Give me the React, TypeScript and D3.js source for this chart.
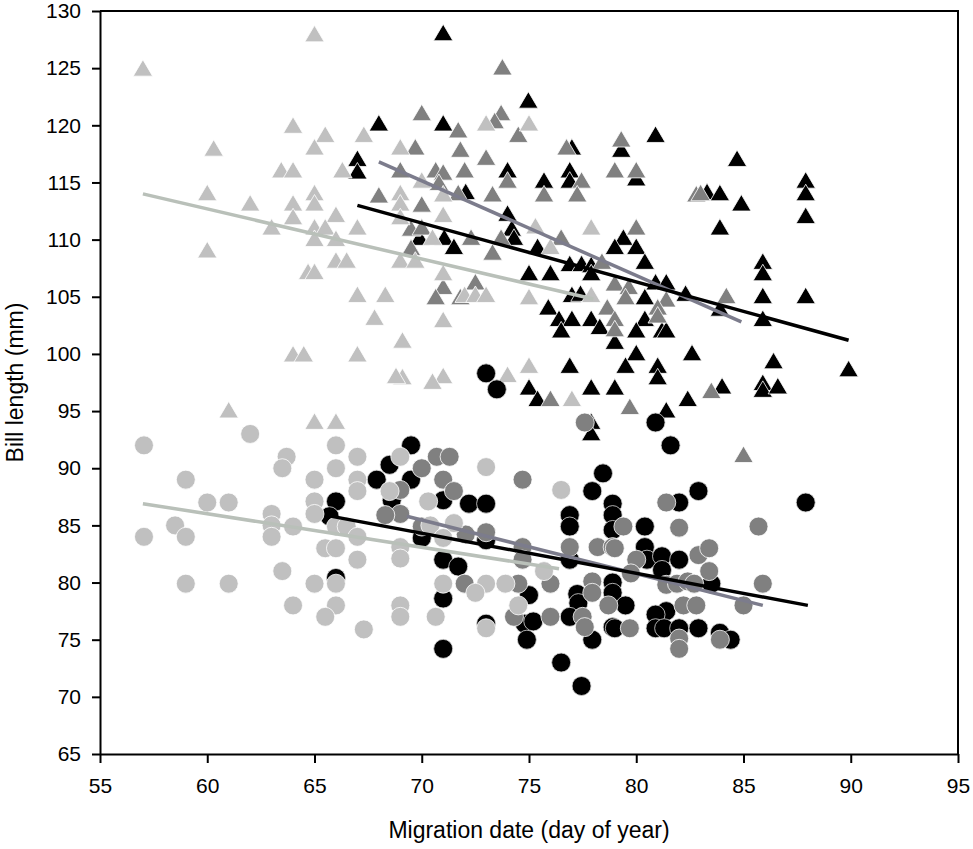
import { axisBottom, axisLeft, line, scaleLinear, select } from "d3";
import { useEffect, useRef } from "react";

const WIDTH = 973;
const HEIGHT = 849;

// each point: [migration day of year, bill length in mm]
const lightTriangles = [
  [57, 125], [65, 128], [64, 120], [60.3, 118], [65.5, 119.2], [65, 118.1], [67.3, 119.2],
  [63.45, 116.1], [64, 116.1], [66.3, 116.1], [69, 118.1], [60, 114.1], [62, 113.2],
  [64, 113.2], [65, 114.1], [65, 113.2], [64, 112], [66, 112.2], [63, 111.1], [65, 111.1],
  [65.5, 111.1], [67, 111.1], [65, 110.1], [66, 110.1], [69, 114.1], [69, 113.2], [69, 112],
  [60, 109.1], [66, 108.2], [66.5, 108.2], [64.7, 107.2], [65, 107.2], [69, 108.2], [69.7, 108.2],
  [67, 105.2], [68.3, 105.2], [67.8, 103.2], [73, 120.2], [75, 120.2], [70, 115.2], [71, 114],
  [71, 112.2], [75.3, 111.2], [77.9, 111.1], [70.5, 110.2], [76, 109.4], [71, 107.1],
  [72, 105.2], [72.5, 105.2], [73, 105.2], [75, 105], [77.9, 105.2], [71, 103], [69.1, 101.2],
  [71, 98.1], [70.5, 97.6], [74, 98.2], [69.1, 98], [75, 99], [77, 96.1], [64, 100],
  [64.5, 100], [67, 100], [68.8, 98.1], [61, 95.1], [65, 94.1], [66, 94.1],
];

const darkTriangles = [
  [68, 113.9], [69, 116.1], [69.7, 118.1], [69.5, 111], [69.5, 109.3], [73.76, 125.1],
  [70, 121.1], [73.7, 121.1], [73.4, 120.4], [71.7, 119.6], [74.5, 119.2], [79.3, 118.8],
  [76.75, 118.1], [71.8, 117.9], [73, 117.2], [74, 115.2], [77.45, 115.2], [75.7, 114],
  [77.25, 114], [79, 116.1], [80, 116.1], [82.8, 114], [70.65, 116.1], [71, 115.9], [72, 116.1],
  [70.8, 115], [71.7, 114.1], [73.3, 114], [70, 113.1], [80, 111.1], [76.5, 110.2],
  [73.7, 110.2], [72.3, 110.2], [70, 111.1], [73.3, 108.9], [78.4, 108.1], [71, 105.9],
  [72.5, 106.3], [70.65, 105], [71.8, 105], [79, 106.2], [79.65, 105.9], [79.5, 105],
  [81.4, 104.8], [78.65, 104.1], [81, 104.1], [79, 103.1], [81, 103.4], [79, 102.2], [76, 96.1],
  [79.7, 95.4], [83, 114.1], [84.2, 105.1], [83.5, 96.8], [85, 91.2],
];

const blackTriangles = [
  [68, 120.2], [67, 117.1], [67, 116], [71, 128.1], [74.97, 122.2], [71, 120.2], [80.9, 119.2],
  [79.3, 117.9], [77, 118.1], [74, 116.1], [76.9, 116.1], [76.9, 115.2], [75.7, 115.2],
  [80, 115.4], [72.05, 114.2], [74, 112.3], [74.2, 111], [74.3, 110.2], [79.4, 110.2],
  [71.05, 110.2], [69.9, 110.2], [79, 109.4], [80, 109.4], [71.5, 109.4], [75.4, 109.4],
  [76.9, 107.9], [77.45, 107.9], [77.9, 107.8], [80.4, 108.1], [75, 107.1], [76, 107.1],
  [77.9, 107.1], [77, 105.2], [77.4, 105.3], [80.9, 106.3], [80.4, 105], [81.4, 106.3],
  [82.3, 105.3], [75.9, 104.1], [76.4, 103.1], [77, 103.1], [77.9, 103.1], [80.4, 103.1],
  [76.5, 102.1], [78.3, 102.4], [80, 102.1], [81.2, 102.1], [81.4, 102.1], [79, 101.1],
  [80, 100.1], [82.6, 100.1], [76.9, 99], [79.5, 99], [81, 99], [81, 98], [75, 97.1],
  [75.4, 96.1], [77.9, 97.1], [79, 97.1], [82.4, 96.1], [81.4, 95.1], [77.9, 94.1], [77.9, 93.1],
  [84.7, 117.1], [83.3, 114.2], [83.9, 114.1], [84.9, 113.2], [87.9, 115.2], [87.9, 114.1],
  [87.9, 112.1], [83.9, 111.1], [85.9, 108.1], [85.9, 107.1], [85.9, 105.1], [87.9, 105.1],
  [83.9, 104], [85.9, 103.1], [86.4, 99.4], [89.9, 98.7], [85.9, 97.5], [85.9, 96.9],
  [86.6, 97.2], [84, 97.2],
];

const lightCircles = [
  [57.05, 92], [62, 93], [59, 89], [63.7, 91], [63.5, 90], [66, 92], [66, 90], [67, 91], [65, 89],
  [67, 89], [67, 88], [60, 87], [61, 87], [65, 87.1], [65, 86], [58.5, 85], [57.05, 84], [59, 84],
  [63, 86], [63, 85], [63, 84], [64, 84.9], [66, 84.9], [66.5, 84.9], [67, 84], [65.5, 83],
  [66, 83], [67, 82], [63.5, 81], [59, 79.9], [61, 79.9], [65, 79.9], [66, 79.9], [64, 78],
  [66, 78], [65.5, 77], [67.3, 75.9], [69, 91], [73, 90.1], [68.5, 88], [70.3, 87.1], [69, 83.1],
  [69, 82.1], [71.5, 85.2], [70.4, 85], [71, 83.9], [76.5, 88.1], [75.7, 81], [71, 79.9],
  [73, 79.9], [73.9, 79.9], [72.5, 79.1], [74.5, 78], [69, 78], [69, 77], [70.65, 77], [73, 76],
];

const darkCircles = [
  [70.7, 91], [71.3, 91], [70, 90], [71, 89], [71.5, 88], [69, 88.1], [69, 86], [68.3, 85.9],
  [70, 84.9], [73, 84.4], [72.05, 84.2], [74.7, 89], [74.7, 83.1], [74.7, 82], [72, 79.9],
  [74.5, 79.9], [76, 79.9], [76.9, 83.1], [78.2, 83.1], [78.9, 83.1], [76, 77], [74.3, 77],
  [77.95, 80.1], [77.95, 79.1], [77.5, 77], [77.6, 76.1], [78.7, 78], [77.6, 94], [81.4, 87],
  [79.4, 84.9], [82, 84.8], [85.7, 84.9], [79, 83], [80, 82], [82.9, 82.4], [83.4, 83],
  [83.4, 81], [79.75, 80.8], [81.4, 79.8], [81.9, 79.9], [82.4, 80.1], [82.7, 79.9], [85.9, 79.9],
  [82.2, 78], [82.8, 78], [85, 78], [79.7, 76], [82, 75.1], [82, 74.2], [83.9, 75],
];

const blackCircles = [
  [73, 98.3], [73.5, 96.9], [80.9, 94], [81.6, 92], [66, 87.1], [67.9, 89], [65.7, 85.8],
  [66, 80.4], [69.5, 92], [68.5, 90.3], [69.5, 89], [68.6, 87.2], [71, 87.2], [72.2, 86.9],
  [73, 86.9], [70, 83.9], [71, 82], [71.7, 81.4], [71, 78.6], [73, 83.7], [75, 78.9],
  [74.8, 76.4], [75.2, 76.6], [74.9, 75], [71, 74.2], [76.9, 85.9], [76.9, 84.9], [77.95, 88],
  [78.45, 89.55], [76.9, 82], [78.9, 86.9], [78.9, 85.9], [78.9, 84.6], [77.25, 79], [77.3, 78.2],
  [76.9, 77], [77.95, 75], [78.9, 80], [78.9, 79.1], [78.9, 76.1], [82.9, 88], [82, 87],
  [87.9, 87], [80.4, 84.9], [80.4, 83.1], [80.5, 82], [81.2, 82.3], [82, 82], [81.2, 81.1],
  [83.5, 79.9], [79.5, 78], [81.4, 77.5], [80.9, 77.2], [79, 76], [80.9, 76], [81.3, 76],
  [82, 76], [82.9, 76], [83.9, 75.6], [84.4, 75], [76.5, 73], [77.45, 70.95], [73, 76.4],
];

// regression lines, start and end
const lightTriangleFit = [[57, 114], [78, 104.8]];
const darkTriangleFit = [[68, 116.8], [84.9, 102.8]];
const blackTriangleFit = [[67, 113], [89.9, 101.2]];
const lightCircleFit = [[57, 86.9], [76.4, 81.2]];
const darkCircleFit = [[69.3, 85.8], [85.9, 78]];
const blackCircleFit = [[65.5, 85.9], [88, 78]];

const xTicks = [55, 60, 65, 70, 75, 80, 85, 90, 95];
const yTicks = [65, 70, 75, 80, 85, 90, 95, 100, 105, 110, 115, 120, 125, 130];

const LIGHT = "#c0c0c0";
const DARK = "#808080";
const BLACK = "#000000";
const FONT = "'Liberation Sans', Arial, sans-serif";

function App() {
  const svgRef = useRef(null);

  useEffect(() => {
    const svg = select(svgRef.current);
    svg.selectAll("*").remove();

    const left = 100;
    const right = 958;
    const top = 11;
    const bottom = 754;

    const x = scaleLinear().domain([55, 95]).range([left, right]);
    const y = scaleLinear().domain([65, 130]).range([bottom, top]);

    const triangle = (d: number[]) => {
      const cx = x(d[0]);
      const cy = y(d[1]);
      return `M${cx},${cy - 8.5}L${cx + 9.7},${cy + 8}L${cx - 9.7},${cy + 8}Z`;
    };

    const drawTriangles = (data: number[][], fill: string) => {
      svg
        .append("g")
        .selectAll("path")
        .data(data)
        .join("path")
        .attr("d", triangle)
        .attr("fill", fill)
        .attr("stroke", "#ffffff")
        .attr("stroke-width", 0.8);
    };

    const drawCircles = (data: number[][], fill: string) => {
      svg
        .append("g")
        .selectAll("circle")
        .data(data)
        .join("circle")
        .attr("cx", (d) => x(d[0]))
        .attr("cy", (d) => y(d[1]))
        .attr("r", 9.5)
        .attr("fill", fill)
        .attr("stroke", fill === BLACK ? "#d8d8d8" : "#ffffff")
        .attr("stroke-width", 0.8);
    };

    drawTriangles(blackTriangles, BLACK);
    drawTriangles(darkTriangles, DARK);
    drawTriangles(lightTriangles, LIGHT);
    drawCircles(blackCircles, BLACK);
    drawCircles(darkCircles, DARK);
    drawCircles(lightCircles, LIGHT);

    const fitLine = line<number[]>()
      .x((d) => x(d[0]))
      .y((d) => y(d[1]));

    const fits = [
      { data: lightTriangleFit, color: "#b9c0b9" },
      { data: lightCircleFit, color: "#b9c0b9" },
      { data: darkTriangleFit, color: "#7c7c8c" },
      { data: darkCircleFit, color: "#7c7c8c" },
      { data: blackTriangleFit, color: "#000000" },
      { data: blackCircleFit, color: "#000000" },
    ];

    fits.forEach((f) => {
      svg
        .append("path")
        .attr("d", fitLine(f.data))
        .attr("fill", "none")
        .attr("stroke", f.color)
        .attr("stroke-width", 3.5);
    });

    // frame
    svg
      .append("path")
      .attr("d", `M${left},${top}H${right}V${bottom}`)
      .attr("fill", "none")
      .attr("stroke", "#000")
      .attr("stroke-width", 2);

    const yAxis: any = axisLeft(y).tickValues(yTicks).tickSize(8).tickSizeOuter(0).tickPadding(11);
    const yG = svg.append("g").attr("transform", `translate(${left},0)`).call(yAxis);

    const xAxis: any = axisBottom(x).tickValues(xTicks).tickSize(9).tickSizeOuter(0).tickPadding(15);
    const xG = svg.append("g").attr("transform", `translate(0,${bottom})`).call(xAxis);

    [yG, xG].forEach((g) => {
      g.select(".domain").attr("stroke-width", 2);
      g.selectAll(".tick line").attr("stroke-width", 2);
      g.selectAll(".tick text")
        .attr("font-size", 21)
        .attr("font-family", FONT)
        .attr("fill", "#000");
    });

    svg
      .append("text")
      .attr("x", (left + right) / 2)
      .attr("y", 838)
      .attr("text-anchor", "middle")
      .attr("font-size", 23)
      .attr("font-family", FONT)
      .text("Migration date (day of year)");

    svg
      .append("text")
      .attr("transform", `translate(23,${(top + bottom) / 2}) rotate(-90)`)
      .attr("text-anchor", "middle")
      .attr("font-size", 23)
      .attr("font-family", FONT)
      .text("Bill length (mm)");
  }, []);

  return (
    <div style={{ position: "absolute", left: 0, top: 0, background: "#fff" }}>
      <svg ref={svgRef} width={WIDTH} height={HEIGHT}></svg>
    </div>
  );
}

export default App;
